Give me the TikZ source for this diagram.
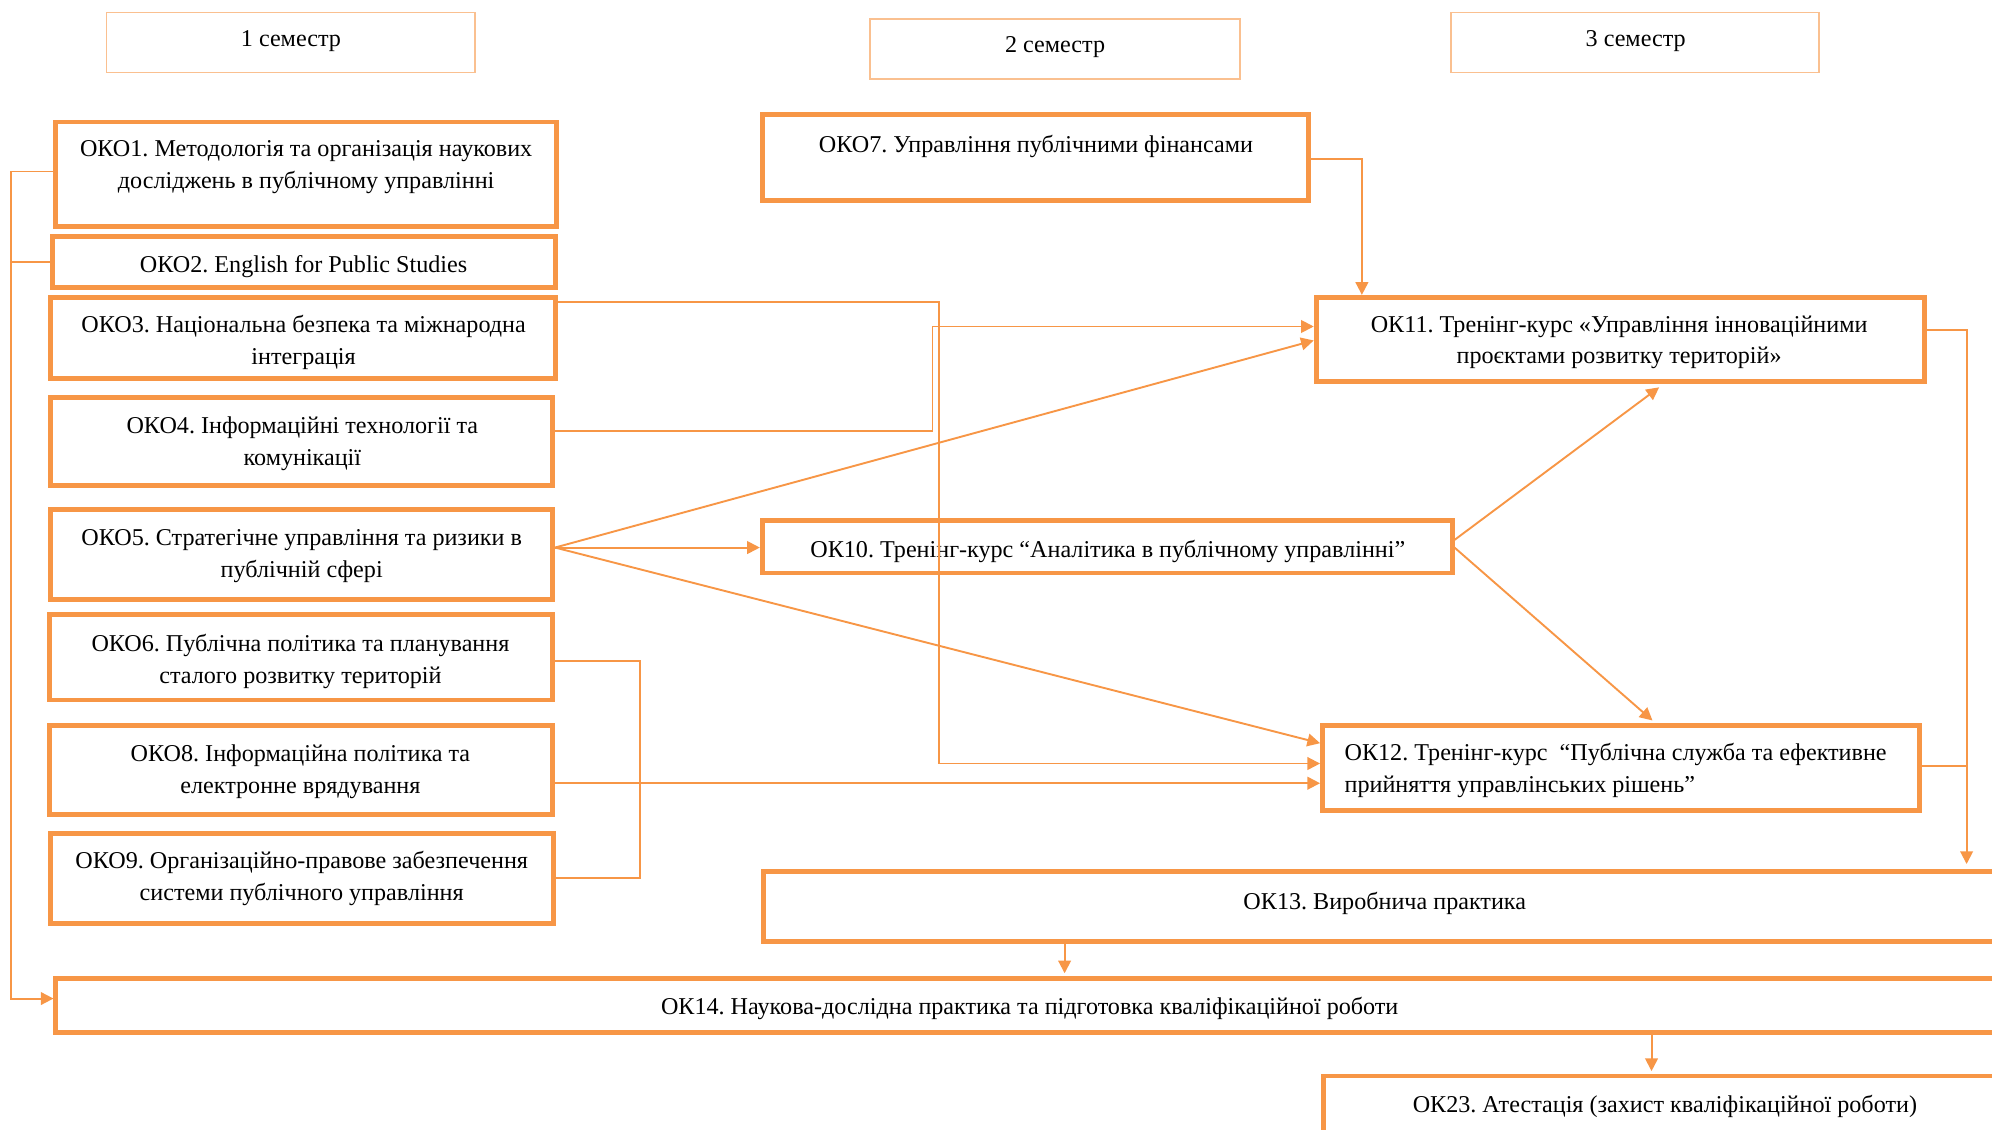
\documentclass[tikz,border=0pt]{standalone}
\usepackage{fontspec}
\setmainfont{Liberation Serif}
\usetikzlibrary{arrows.meta,fit,calc}
\definecolor{org}{HTML}{F79646}
\definecolor{lorg}{HTML}{FAC090}
\frenchspacing
\begin{document}
\begin{tikzpicture}[x=0.5pt,y=-0.5pt,
  box/.style={draw=org,line width=1.9pt,inner sep=0pt},
  sem/.style={draw=lorg,line width=0.6pt,inner sep=0pt},
  txt/.style={align=center,inner sep=0pt,yshift=-1pt,font=\fontsize{9.5}{12.5}\selectfont},
  con/.style={draw=org,line width=0.75pt},
  arr/.style={con,-{Triangle[length=5pt,width=5pt]}}]
\useasboundingbox (0,0) rectangle (1568,889);

% semester headers
\node[sem,fit={(84,10)(374,57)}] (s1) {};
\node[sem,fit={(685,15)(976,62)}] (s2) {};
\node[sem,fit={(1142,10)(1432,57)}] (s3) {};
\node[txt] (s1t) at (229,30) {1 семестр};
\node[txt] (s2t) at (830.5,35) {2 семестр};
\node[txt] (s3t) at (1287.5,30) {3 семестр};

% boxes
\node[box,fit={(44,96)(438,178)}] (oko1) {};
\node[box,fit={(41,186)(437,226)}] (oko2) {};
\node[box,fit={(40,234)(437,298)}] (oko3) {};
\node[box,fit={(40,313)(435,382)}] (oko4) {};
\node[box,fit={(40,401)(435,472)}] (oko5) {};
\node[box,fit={(39,484)(435,551)}] (oko6) {};
\node[box,fit={(39,571)(435,641)}] (oko8) {};
\node[box,fit={(40,656)(436,727)}] (oko9) {};
\node[box,fit={(600,90)(1030,158)}] (oko7) {};
\node[box,fit={(600,410)(1143,451)}] (ok10) {};
\node[box,fit={(1036,234)(1515,300)}] (ok11) {};
\node[box,fit={(1041,571)(1511,638)}] (ok12) {};
\node[box,fit={(601,686)(1580,741)}] (ok13) {};
\node[box,fit={(44,770)(1576,813)}] (ok14) {};
\node[box,fit={(1042,847)(1578,905)}] (ok23) {};

% texts
\node[txt] (oko1t) at (241,129.5) {ОКО1. Методологія та організація наукових\\досліджень в публічному управлінні};
\node[txt] (oko2t) at (239,208) {ОКО2. English for Public Studies};
\node[txt] (oko3t) at (239,267.5) {ОКО3. Національна безпека та міжнародна\\інтеграція};
\node[txt] (oko4t) at (238,347.5) {ОКО4. Інформаційні технології та\\комунікації};
\node[txt] (oko5t) at (237.5,435.5) {ОКО5. Стратегічне управління та ризики в\\публічній сфері};
\node[txt] (oko6t) at (236.5,518.5) {ОКО6. Публічна політика та планування\\сталого розвитку територій};
\node[txt] (oko8t) at (236.5,605.5) {ОКО8. Інформаційна політика та\\електронне врядування};
\node[txt] (oko9t) at (237.5,689.5) {ОКО9. Організаційно-правове забезпечення\\системи публічного управління};
\node[txt] (oko7t) at (815.5,113) {ОКО7. Управління публічними фінансами};
\node[txt] (ok10t) at (872,432) {ОК10. Тренінг-курс “Аналітика в публічному управлінні”};
\node[txt] (ok11t) at (1274.5,267.5) {ОК11. Тренінг-курс «Управління інноваційними\\проєктами розвитку територій»};
\node[txt,align=left,anchor=west] (ok12t) at (1058,604.5) {ОК12. Тренінг-курс\ \ “Публічна служба та ефективне\\прийняття управлінських рішень”};
\node[txt] (ok13t) at (1090,709) {ОК13. Виробнича практика};
\node[txt] (ok14t) at (810.5,792) {ОК14. Наукова-дослідна практика та підготовка кваліфікаційної роботи};
\node[txt] (ok23t) at (1310.5,869) {ОК23. Атестація (захист кваліфікаційної роботи)};

% connectors
\coordinate (lA) at (9,135);
\coordinate (lB) at (9,206);
\coordinate (lC) at (9,786);
\draw[arr] (lA -| oko1.west) -- (lA) -- (lC) -- (lC -| ok14.west);
\draw[con] (lB -| oko2.west) -- (lB);

\coordinate (b3a) at (739,238);
\coordinate (b3b) at (739,601);
\draw[arr] (b3a -| oko3.east) -- (b3a) -- (b3b) -- (b3b -| ok12.west);

\coordinate (b4a) at (734,339);
\coordinate (b4b) at (734,257);
\draw[arr] (b4a -| oko4.east) -- (b4a) -- (b4b) -- (b4b -| ok11.west);

\coordinate (f5) at (0,431);
\coordinate (f5a) at (0,268);
\coordinate (f5c) at (0,585);
\draw[arr] (f5 -| oko5.east) -- (f5a -| ok11.west);
\draw[arr] (f5 -| oko5.east) -- (f5 -| ok10.west);
\draw[arr] (f5 -| oko5.east) -- (f5c -| ok12.west);

\coordinate (b7) at (1072,125);
\draw[arr] (b7 -| oko7.east) -- (b7) -- (b7 |- ok11.north);

\coordinate (o10a) at (0,425);
\coordinate (t11) at (1310,0);
\coordinate (t12) at (1303,0);
\draw[arr,shorten >=2.5pt] (o10a -| ok10.east) -- (t11 |- ok11.south);
\draw[arr,shorten >=1.5pt] (f5 -| ok10.east) -- (t12 |- ok12.north);

\coordinate (r1) at (1548,260);
\coordinate (r2) at (1548,603);
\draw[arr,shorten >=2pt] (r1 -| ok11.east) -- (r1) -- (r1 |- ok13.north);
\draw[con] (r2 -| ok12.east) -- (r2);

\coordinate (k1) at (504,520);
\coordinate (k2) at (504,691);
\draw[con] (k1 -| oko6.east) -- (k1) -- (k2) -- (k2 -| oko9.east);

\coordinate (e8) at (0,616.5);
\draw[arr] (e8 -| oko8.east) -- (e8 -| ok12.west);

\coordinate (v13) at (838,0);
\draw[arr,shorten >=1pt] (ok13.south -| v13) -- (ok14.north -| v13);
\coordinate (v14) at (1300,0);
\draw[arr,shorten >=1pt] (ok14.south -| v14) -- (ok23.north -| v14);
\end{tikzpicture}
\end{document}
